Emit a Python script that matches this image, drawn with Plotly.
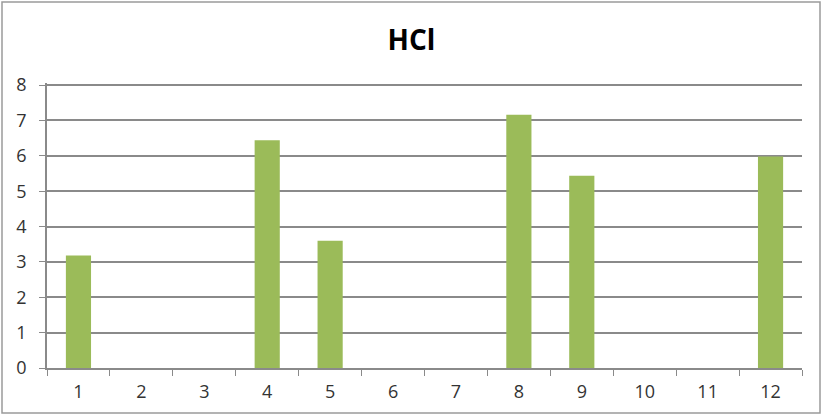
import plotly.graph_objects as go

# HCl readings per sample number
samples = ["1", "2", "3", "4", "5", "6", "7", "8", "9", "10", "11", "12"]
hcl_values = [3.18, 0, 0, 6.44, 3.6, 0, 0, 7.16, 5.44, 0, 0, 5.98]
y_ticks = [0, 1, 2, 3, 4, 5, 6, 7, 8]
y_top = 8.06

W, H = 823, 416
L, R, T, B = 47, 21, 83, 48
pw, ph = W - L - R, H - T - B

GRID = "#8a8a8a"
TEXT = "#333333"

fig = go.Figure(
    go.Bar(
        x=samples,
        y=hcl_values,
        marker=dict(color="#9bbb59", line=dict(width=0)),
        width=0.4,
        hoverinfo="x+y",
    )
)

fig.update_layout(
    width=W,
    height=H,
    margin=dict(l=L, r=R, t=T, b=B),
    paper_bgcolor="white",
    plot_bgcolor="white",
    showlegend=False,
    title=dict(
        text="<b>HCl</b>",
        x=0.5,
        xanchor="center",
        y=1 - 40 / H,
        yanchor="middle",
        font=dict(family="Open Sans", size=28, color="black"),
    ),
    font=dict(family="Open Sans", size=18, color=TEXT),
    bargap=0.6,
)

fig.update_xaxes(
    type="category",
    showline=True,
    linecolor=GRID,
    linewidth=1.5,
    showgrid=False,
    ticks="outside",
    tickson="boundaries",
    ticklen=6,
    tickcolor=GRID,
    ticklabelstandoff=7,
    tickfont=dict(size=18, color=TEXT),
)

fig.update_yaxes(
    range=[0, y_top],
    tickvals=y_ticks,
    showline=True,
    linecolor=GRID,
    linewidth=1.5,
    showgrid=True,
    gridcolor=GRID,
    gridwidth=1.5,
    zeroline=False,
    ticks="outside",
    ticklen=6,
    tickcolor=GRID,
    ticklabelstandoff=9,
    tickfont=dict(size=18, color=TEXT),
)

# Outer chart frame
x0 = (2 - L) / pw
x1 = (820 - L) / pw
y1 = (H - B - 2) / ph
y0 = (H - B - 413) / ph
fig.add_shape(
    type="rect",
    xref="paper",
    yref="paper",
    x0=x0,
    x1=x1,
    y0=y0,
    y1=y1,
    line=dict(color="#9a9a9a", width=1.5),
    fillcolor="rgba(0,0,0,0)",
    layer="below",
)

fig.write_html("out.html")
